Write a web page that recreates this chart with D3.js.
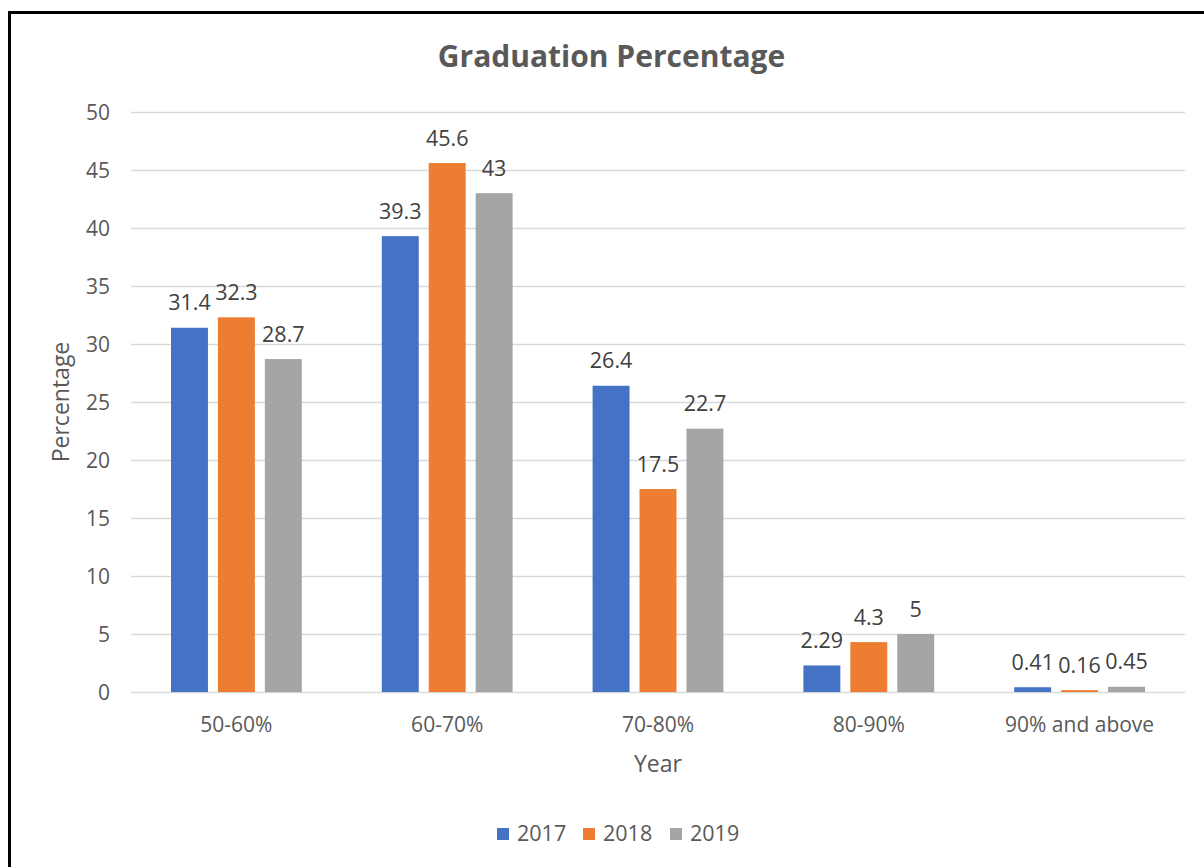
<!DOCTYPE html>
<html>
<head>
<meta charset="utf-8">
<script src="https://cdn.jsdelivr.net/npm/d3@7"></script>
<style>
  html, body { margin: 0; padding: 0; background: #fff; }
  svg { display: block; }
  text { font-family: "Open Sans", "Segoe UI", sans-serif; }
</style>
</head>
<body>
<svg id="chart" width="1204" height="867"></svg>
<script>
const categories = ["50-60%", "60-70%", "70-80%", "80-90%", "90% and above"];
const seriesNames = ["2017", "2018", "2019"];
const values2017 = [31.4, 39.3, 26.4, 2.29, 0.41];
const values2018 = [32.3, 45.6, 17.5, 4.3, 0.16];
const values2019 = [28.7, 43, 22.7, 5, 0.45];
const yTicks = [0, 5, 10, 15, 20, 25, 30, 35, 40, 45, 50];
const colors = ["#4472C4", "#ED7D31", "#A5A5A5"];

(function () {
const seriesValues = [values2017, values2018, values2019];

const svg = d3.select("#chart");
const W = 1204, H = 867;
svg.append("rect").attr("width", W).attr("height", H).attr("fill", "#fff");

// border (left & top visible)
svg.append("path")
  .attr("d", `M9.5,${H} L9.5,12.5 L${W},12.5`)
  .attr("fill", "none").attr("stroke", "#000").attr("stroke-width", 3);

const pLeft = 131, pRight = 1185, pTop = 112, pBottom = 692;

const x = d3.scaleBand().domain(categories).range([pLeft, pRight]).paddingInner(0).paddingOuter(0);
const y = d3.scaleLinear().domain([0, 50]).range([pBottom, pTop]);

// gridlines
svg.append("g").selectAll("line").data(yTicks).join("line")
  .attr("x1", pLeft).attr("x2", pRight)
  .attr("y1", d => Math.round(y(d)) + 0.5).attr("y2", d => Math.round(y(d)) + 0.5)
  .attr("stroke", "#D9D9D9").attr("stroke-width", 1.5);

// y axis labels
const yAxis = d3.axisLeft(y).tickValues(yTicks).tickSize(0).tickPadding(0);
const yg = svg.append("g").attr("transform", `translate(${pLeft - 21},0)`).call(yAxis);
yg.select(".domain").remove();
yg.selectAll("text").attr("font-size", 21).attr("fill", "#595959")
  .attr("font-family", "'Open Sans', sans-serif").attr("dy", "0.35em");

// x axis labels
const xAxis = d3.axisBottom(x).tickSize(0).tickPadding(0);
const xg = svg.append("g").attr("transform", `translate(0,${pBottom + 25})`).call(xAxis);
xg.select(".domain").remove();
xg.selectAll("text").attr("font-size", 21).attr("fill", "#595959")
  .attr("font-family", "'Open Sans', sans-serif").attr("dy", "0.7em");

// bars
const band = x.bandwidth();
const groupPad = 40 / 210.8 * band;
const inner = d3.scaleBand().domain(seriesNames).range([groupPad, band - groupPad]).paddingInner(10 / 47).paddingOuter(0);

const rows = [];
categories.forEach((c, i) => {
  seriesNames.forEach((s, j) => rows.push({ cat: c, ser: s, v: seriesValues[j][i], j }));
});

svg.append("g").selectAll("rect").data(rows).join("rect")
  .attr("x", d => x(d.cat) + inner(d.ser))
  .attr("y", d => y(d.v))
  .attr("width", inner.bandwidth())
  .attr("height", d => y(0) - y(d.v))
  .attr("fill", d => colors[d.j]);

// value labels
svg.append("g").selectAll("text").data(rows).join("text")
  .attr("x", d => x(d.cat) + inner(d.ser) + inner.bandwidth() / 2)
  .attr("y", d => y(d.v) - 17.5)
  .attr("text-anchor", "middle")
  .attr("font-size", 21.5).attr("fill", "#404040")
  .text(d => d.v);

// title
svg.append("text").attr("x", 611.5).attr("y", 67).attr("text-anchor", "middle")
  .attr("font-size", 30).attr("font-weight", 700).attr("fill", "#595959")
  .text("Graduation Percentage");

// axis titles
svg.append("text").attr("transform", `translate(69,${(pTop + pBottom) / 2}) rotate(-90)`)
  .attr("text-anchor", "middle").attr("font-size", 23).attr("fill", "#595959")
  .text("Percentage");
svg.append("text").attr("x", (pLeft + pRight) / 2).attr("y", 772).attr("text-anchor", "middle")
  .attr("font-size", 23).attr("fill", "#595959").text("Year");

// legend
const legendX = [497, 583, 670];
const lg = svg.append("g");
seriesNames.forEach((s, j) => {
  lg.append("rect").attr("x", legendX[j]).attr("y", 828).attr("width", 12).attr("height", 12).attr("fill", colors[j]);
  lg.append("text").attr("x", legendX[j] + 20).attr("y", 841).attr("font-size", 21.5).attr("fill", "#595959").text(s);
});
})();
</script>
</body>
</html>
